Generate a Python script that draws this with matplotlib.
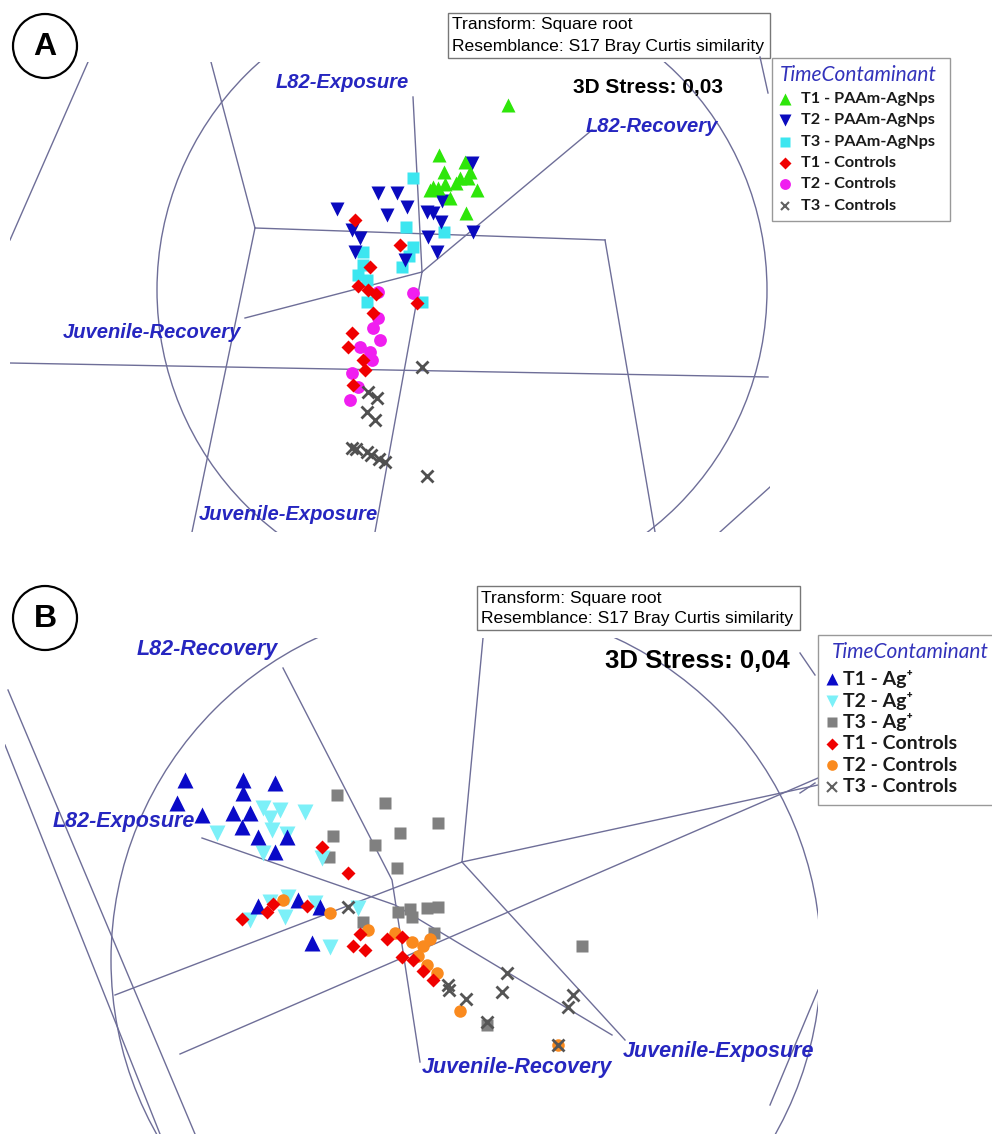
import matplotlib
matplotlib.use("Agg")
import matplotlib.pyplot as plt
from matplotlib.patches import Circle, Rectangle

# ---------------------------------------------------------------- data
# Panel A: 3D nMDS ordination, PAAm-AgNps exposure (screen coordinates)
A_T1_PAAM_X = [508, 439, 465, 444, 470, 460, 468, 433, 445, 456, 477, 430, 450, 466, 438]
A_T1_PAAM_Y = [105, 155, 162, 172, 172, 178, 178, 187, 184, 183, 190, 190, 198, 213, 188]
A_T2_PAAM_X = [472, 378, 397, 337, 387, 407, 427, 433, 442, 441, 473, 352, 360, 428, 355, 437, 405]
A_T2_PAAM_Y = [163, 193, 193, 209, 215, 207, 212, 213, 201, 222, 232, 230, 238, 237, 252, 252, 260]
A_T3_PAAM_X = [413, 406, 444, 413, 409, 402, 363, 363, 358, 367, 367, 422]
A_T3_PAAM_Y = [178, 227, 232, 247, 256, 267, 252, 265, 275, 280, 302, 302]
A_T1_CTRL_X = [355, 400, 358, 368, 376, 373, 352, 348, 363, 365, 353, 417, 370]
A_T1_CTRL_Y = [220, 245, 286, 290, 294, 313, 333, 347, 360, 370, 385, 303, 267]
A_T2_CTRL_X = [413, 378, 378, 373, 380, 360, 370, 372, 352, 358, 350]
A_T2_CTRL_Y = [293, 292, 318, 328, 340, 347, 352, 360, 373, 387, 400]
A_T3_CTRL_X = [422, 368, 377, 367, 375, 352, 356, 367, 371, 379, 385, 427]
A_T3_CTRL_Y = [367, 392, 398, 412, 420, 448, 449, 452, 455, 459, 462, 476]

# Panel B: 3D nMDS ordination, Ag+ exposure
B_T1_AG_X = [185, 243, 275, 243, 177, 233, 250, 202, 242, 258, 275, 287, 258, 298, 320, 312]
B_T1_AG_Y = [780, 780, 783, 793, 803, 813, 813, 815, 827, 837, 852, 837, 906, 900, 907, 943]
B_T2_AG_X = [263, 280, 270, 305, 217, 272, 263, 287, 322, 288, 315, 250, 285, 358, 330, 270]
B_T2_AG_Y = [808, 810, 818, 812, 833, 830, 853, 834, 858, 897, 903, 920, 917, 908, 947, 902]
B_T3_AG_X = [337, 385, 438, 400, 333, 375, 329, 397, 398, 410, 427, 438, 412, 363, 434, 582, 487]
B_T3_AG_Y = [795, 803, 823, 833, 836, 845, 857, 868, 912, 909, 908, 907, 917, 922, 933, 946, 1025]
B_T1_CTRL_X = [322, 348, 242, 267, 273, 307, 360, 353, 365, 387, 402, 402, 413, 423, 433]
B_T1_CTRL_Y = [847, 873, 919, 912, 904, 906, 934, 946, 950, 939, 937, 957, 960, 971, 980]
B_T2_CTRL_X = [283, 330, 368, 395, 412, 423, 430, 427, 437, 418, 460, 558]
B_T2_CTRL_Y = [900, 913, 930, 933, 942, 946, 939, 965, 973, 956, 1011, 1045]
B_T3_CTRL_X = [348, 448, 449, 466, 507, 502, 573, 568, 487, 558]
B_T3_CTRL_Y = [907, 985, 990, 999, 973, 992, 995, 1007, 1022, 1045]

LEGEND_A = ["T1 - PAAm-AgNps", "T2 - PAAm-AgNps", "T3 - PAAm-AgNps",
            "T1 - Controls", "T2 - Controls", "T3 - Controls"]
LEGEND_B = ["T1 - Ag\u207a", "T2 - Ag\u207a", "T3 - Ag\u207a",
            "T1 - Controls", "T2 - Controls", "T3 - Controls"]
AXES_A = ["L82-Exposure", "L82-Recovery", "Juvenile-Recovery", "Juvenile-Exposure"]
AXES_B = ["L82-Recovery", "L82-Exposure", "Juvenile-Recovery", "Juvenile-Exposure"]
INFO = ["Transform: Square root", "Resemblance: S17 Bray Curtis similarity"]

# ---------------------------------------------------------------- styles
W, H = 992, 1134
LINE_C = "#6E6E98"
LABEL_C = "#2626C0"
ARIAL = "Liberation Sans"
LEG_FONT = ["Lato", "DejaVu Sans"]

STY_A = [
    dict(marker="^", color="#2EE60A", ms=10),
    dict(marker="v", color="#0A0ABE", ms=10),
    dict(marker="s", color="#3CE6F0", ms=8.5),
    dict(marker="D", color="#F00000", ms=7.2),
    dict(marker="o", color="#F01EF0", ms=9.2),
    dict(marker="x", color="#505050", ms=8, mew=2),
]
STY_B = [
    dict(marker="^", color="#0A0AC8", ms=11),
    dict(marker="v", color="#7CF0F8", ms=11),
    dict(marker="s", color="#808080", ms=8.8),
    dict(marker="D", color="#F00000", ms=7.3),
    dict(marker="o", color="#FA8A1E", ms=9),
    dict(marker="x", color="#555555", ms=8.5, mew=2),
]

fig = plt.figure(figsize=(W / 100, H / 100), dpi=100)
fig.patch.set_facecolor("white")


def pix_axes(x0, y0, x1, y1):
    ax = fig.add_axes([x0 / W, 1 - y1 / H, (x1 - x0) / W, (y1 - y0) / H])
    ax.set_xlim(x0, x1)
    ax.set_ylim(y1, y0)
    ax.axis("off")
    ax.patch.set_alpha(0)
    return ax


def draw_frame(ax, lines, centre, radius):
    for seg in lines:
        xs, ys = zip(*seg)
        ax.plot(xs, ys, color=LINE_C, lw=1.0, zorder=1)
    ax.add_patch(Circle(centre, radius, fill=False, ec=LINE_C, lw=1.0, zorder=1))


def draw_points(ax, series, styles):
    for (xs, ys), st in zip(series, styles):
        if st["marker"] == "x":
            ax.plot(xs, ys, ls="none", marker="x", color=st["color"],
                    ms=st["ms"], mew=st["mew"], zorder=5)
        else:
            ax.plot(xs, ys, ls="none", marker=st["marker"], color=st["color"],
                    ms=st["ms"], mec="none", zorder=3)


# ---------------------------------------------------------------- panel A
axA = pix_axes(10, 62, 770, 532)
LINES_A = [
    [(10, 363), (768, 377)],
    [(255, 228), (605, 240)],
    [(211, 62), (255, 228)],
    [(255, 228), (192, 532)],
    [(88, 62), (10, 240)],
    [(413, 97), (422, 272)],
    [(422, 272), (375, 532)],
    [(245, 318), (422, 272)],
    [(422, 272), (592, 130)],
    [(605, 240), (655, 532)],
    [(720, 532), (770, 487)],
]
draw_frame(axA, LINES_A, (462, 290), 305)
seriesA = [(A_T3_PAAM_X, A_T3_PAAM_Y), (A_T2_PAAM_X, A_T2_PAAM_Y),
           (A_T1_PAAM_X, A_T1_PAAM_Y), (A_T2_CTRL_X, A_T2_CTRL_Y),
           (A_T1_CTRL_X, A_T1_CTRL_Y), (A_T3_CTRL_X, A_T3_CTRL_Y)]
stylesA = [STY_A[2], STY_A[1], STY_A[0], STY_A[4], STY_A[3], STY_A[5]]
draw_points(axA, seriesA, stylesA)

# ---------------------------------------------------------------- panel B
axB = pix_axes(5, 638, 818, 1134)
LINES_B = [
    [(8, 690), (195, 1134)],
    [(5, 745), (160, 1134)],
    [(115, 995), (462, 862)],
    [(462, 862), (818, 785)],
    [(483, 638), (462, 862)],
    [(283, 668), (392, 880), (420, 1062)],
    [(202, 838), (395, 905), (612, 1035)],
    [(462, 862), (625, 1040)],
    [(180, 1054), (818, 778)],
    [(818, 990), (770, 1105)],
]
draw_frame(axB, LINES_B, (466, 960), 355)
seriesB = [(B_T3_AG_X, B_T3_AG_Y), (B_T2_AG_X, B_T2_AG_Y),
           (B_T1_AG_X, B_T1_AG_Y), (B_T2_CTRL_X, B_T2_CTRL_Y),
           (B_T1_CTRL_X, B_T1_CTRL_Y), (B_T3_CTRL_X, B_T3_CTRL_Y)]
stylesB = [STY_B[2], STY_B[1], STY_B[0], STY_B[4], STY_B[3], STY_B[5]]
draw_points(axB, seriesB, stylesB)

# ---------------------------------------------------------------- annotations
ov = pix_axes(0, 0, W, H)


def panel_tag(letter, cx, cy):
    ov.add_patch(Circle((cx, cy), 32, fill=False, ec="black", lw=1.6))
    ov.text(cx, cy + 1, letter, ha="center", va="center", fontsize=23,
            fontweight="bold", family=ARIAL)


def info_box(x0, y0, x1, y1):
    ov.add_patch(Rectangle((x0, y0), x1 - x0, y1 - y0, fill=True, fc="white",
                           ec="#777777", lw=1.0, zorder=2))
    ov.text(x0 + 4, y0 + 12, INFO[0], ha="left", va="center", fontsize=12.6,
            family=ARIAL, zorder=3)
    ov.text(x0 + 4, y0 + 33, INFO[1], ha="left", va="center", fontsize=12.6,
            family=ARIAL, zorder=3)


def legend_box(x0, y0, x1, y1, title_xy, mx, tx, rows, labels, styles, fs, scale):
    ov.add_patch(Rectangle((x0, y0), x1 - x0, y1 - y0, fill=True, fc="white",
                           ec="#999999", lw=1.0, zorder=2, clip_on=True))
    ov.text(title_xy[0], title_xy[1], "TimeContaminant", ha="left", va="center",
            fontsize=15, style="italic", color="#3333BB", family=LEG_FONT,
            zorder=3)
    for y, lab, st in zip(rows, labels, styles):
        kw = dict(ls="none", marker=st["marker"], color=st["color"],
                  ms=st["ms"] * scale, zorder=3)
        if st["marker"] == "x":
            kw.update(mew=1.5, ms=st["ms"] * scale * 0.9, color="#606060")
        else:
            kw.update(mec="none")
        ov.plot([mx], [y], **kw)
        ov.text(tx, y, lab, ha="left", va="center", fontsize=fs,
                fontweight="bold", color="#1A1A1A", family=LEG_FONT, zorder=3)


# panel A annotations
panel_tag("A", 45, 46)
info_box(448, 13, 770, 58)
ov.text(648, 87, "3D Stress: 0,03", ha="center", va="center", fontsize=15,
        fontweight="bold", family=ARIAL)
for lab, (x, y) in zip(AXES_A, [(342, 83), (652, 127), (152, 333), (288, 514)]):
    ov.text(x, y, lab, ha="center", va="center", fontsize=14.5, fontweight="bold",
            style="italic", color=LABEL_C, family=ARIAL)
ov.plot([760, 768], [57, 93], color=LINE_C, lw=1.0)
legend_box(772, 58, 950, 221, (780, 75), 785, 801,
           [99 + 21.3 * i for i in range(6)], LEGEND_A, STY_A, 11.7, 0.85)

# panel B annotations
panel_tag("B", 45, 618)
info_box(477, 586, 800, 630)
ov.text(697, 661, "3D Stress: 0,04", ha="center", va="center", fontsize=18.5,
        fontweight="bold", family=ARIAL)
for lab, (x, y) in zip(AXES_B, [(207, 650), (124, 822), (517, 1068), (718, 1052)]):
    ov.text(x, y, lab, ha="center", va="center", fontsize=15.5, fontweight="bold",
            style="italic", color=LABEL_C, family=ARIAL)
ov.plot([800, 815], [653, 675], color=LINE_C, lw=1.0)
ov.plot([800, 815], [793, 783], color=LINE_C, lw=1.0)
legend_box(818, 635, 1010, 805, (832, 652), 832, 843,
           [679 + 21.6 * i for i in range(6)], LEGEND_B, STY_B, 14, 0.85)

fig.savefig("out.png", dpi=100, facecolor="white")
